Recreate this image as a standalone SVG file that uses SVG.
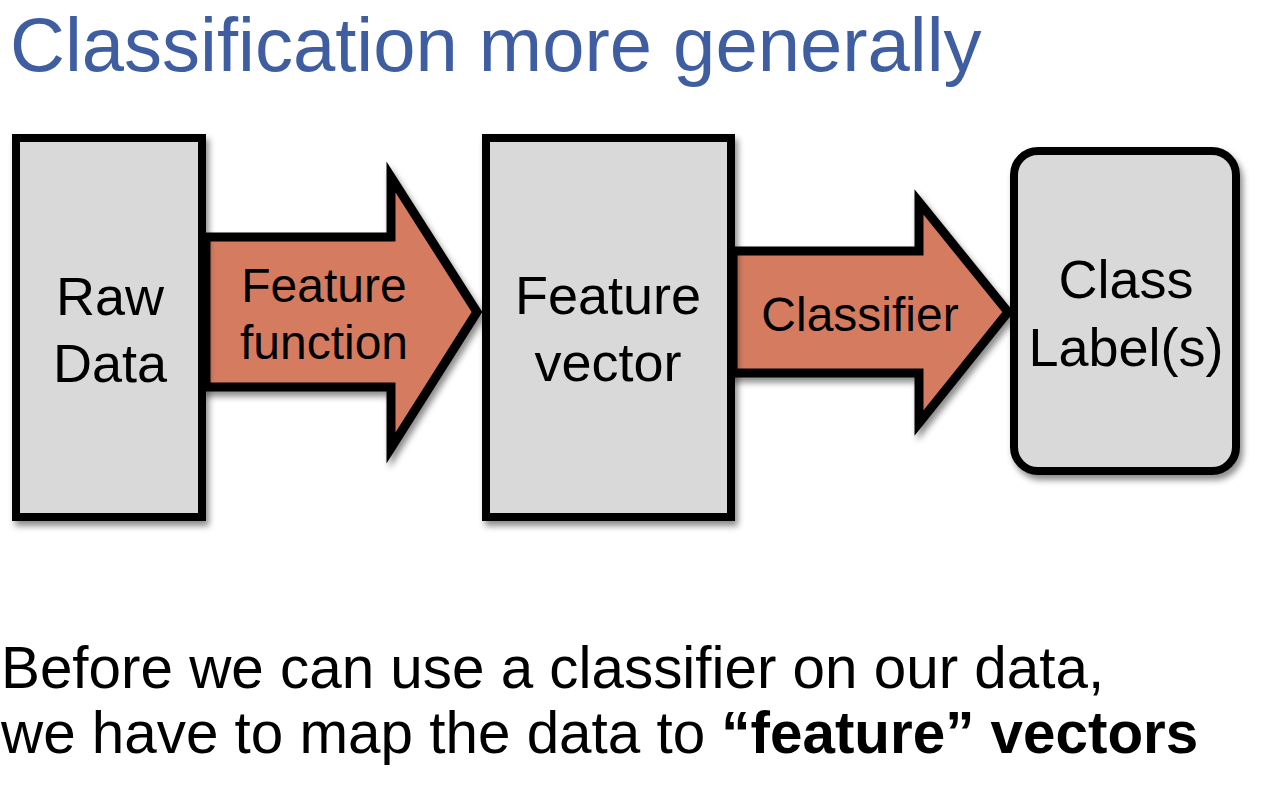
<svg xmlns="http://www.w3.org/2000/svg" width="1265" height="799" viewBox="0 0 1265 799">
<defs>
<filter id="sh" x="-10%" y="-10%" width="130%" height="130%">
<feDropShadow dx="3" dy="5" stdDeviation="3" flood-color="#000" flood-opacity="0.45"/>
</filter>
<style>
.box{fill:#d9d9d9;stroke:#000;stroke-width:8;filter:url(#sh)}
.arr{fill:#d57c61;stroke:#000;stroke-width:9;stroke-linejoin:miter;filter:url(#sh)}
.t{font-family:"Liberation Sans",Arial,sans-serif;fill:#000;text-anchor:middle}
.body{font-family:"Liberation Sans",Arial,sans-serif;fill:#000;font-size:60px}
</style>
</defs>
<rect width="1265" height="799" fill="#fff"/>
<text x="10" y="71" font-family="'Liberation Sans',Arial,sans-serif" font-size="76" fill="#3f5ea2">Classification more generally</text>
<g id="connectors">
<g id="arrow-feature-function">
<polygon class="arr" points="206,237 391,237 391,177 477,312 391,448 391,387 206,387"/>
<text class="t" x="324" y="302" font-size="48">Feature</text>
<text class="t" x="324" y="359" font-size="48">function</text>
</g>
<g id="arrow-classifier">
<polygon class="arr" points="733,251 919,251 919,202 1008,312 919,423 919,373 733,373"/>
<text class="t" x="860" y="331" font-size="48">Classifier</text>
</g>
</g>
<g id="raw-data">
<rect class="box" x="16" y="138" width="186" height="379"/>
<text class="t" x="110" y="315" font-size="54">Raw</text>
<text class="t" x="110" y="382" font-size="54">Data</text>
</g>
<g id="feature-vector">
<rect class="box" x="486" y="138" width="245" height="379"/>
<text class="t" x="608" y="314" font-size="54">Feature</text>
<text class="t" x="608" y="381" font-size="54">vector</text>
</g>
<g id="class-labels">
<rect class="box" x="1014" y="151" width="222" height="320" rx="24" ry="24"/>
<text class="t" x="1126" y="298" font-size="54">Class</text>
<text class="t" x="1126" y="366" font-size="54">Label(s)</text>
</g>
<g transform="scale(0.973 1)">
<text class="body" x="1" y="688">Before we can use a classifier on our data,</text>
<text class="body" x="1" y="753">we have to map the data to <tspan font-weight="bold">“feature” vectors</tspan></text>
</g>
</svg>
